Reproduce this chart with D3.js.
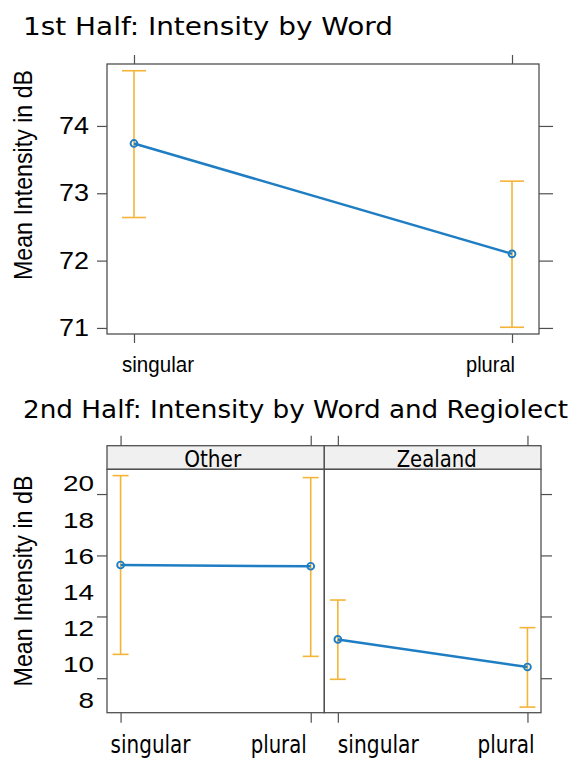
<!DOCTYPE html>
<html>
<head>
    <meta charset="utf-8">
    <title>Intensity by Word</title>
    <script src="https://d3js.org/d3.v7.min.js"></script>
    <style>
        body { margin: 0; background: #fff; }
        svg { display: block; }
    </style>
</head>
<body>
    <script>
        // data
        var words = ["singular", "plural"];

        // 1st half
        var half1Mean  = [73.74, 72.10];
        var half1Lower = [72.64, 71.01];
        var half1Upper = [74.82, 73.18];
        var half1Ticks = [71, 72, 73, 74];

        // 2nd half, by regiolect
        var regiolects = ["Other", "Zealand"];
        var otherMean    = [15.49, 15.42];
        var otherLower   = [10.54, 10.43];
        var otherUpper   = [20.44, 20.33];
        var zealandMean  = [11.37, 9.84];
        var zealandLower = [9.16, 7.62];
        var zealandUpper = [13.55, 12.02];
        var half2Labels  = [8, 10, 12, 14, 16, 18, 20];
        var half2Marks   = [9.22, 12.64, 16.02, 19.42];

        var width = 572, height = 758;
        var blue = "#1f7ec3", orange = "#f4b437", frameCol = "#505050";

        var svg = d3.select("body").append("svg")
            .attr("width", width)
            .attr("height", height);

        function rows(mean, lower, upper) {
            return words.map(function(w, i) {
                return { word: w, mean: mean[i], lower: lower[i], upper: upper[i] };
            });
        }

        function styleAxis(g) {
            g.select(".domain").remove();
            g.selectAll("line").attr("stroke", frameCol).attr("stroke-width", 1.2);
        }

        // draws line, error bars and points for one panel
        function drawSeries(g, data, x, y, cap) {
            var bars = g.selectAll(".ci").data(data).enter().append("g");
            bars.append("line")
                .attr("x1", function(d) { return x(d.word); })
                .attr("x2", function(d) { return x(d.word); })
                .attr("y1", function(d) { return y(d.lower); })
                .attr("y2", function(d) { return y(d.upper); });
            bars.append("line")
                .attr("x1", function(d) { return x(d.word) - cap; })
                .attr("x2", function(d) { return x(d.word) + cap; })
                .attr("y1", function(d) { return y(d.upper); })
                .attr("y2", function(d) { return y(d.upper); });
            bars.append("line")
                .attr("x1", function(d) { return x(d.word) - cap; })
                .attr("x2", function(d) { return x(d.word) + cap; })
                .attr("y1", function(d) { return y(d.lower); })
                .attr("y2", function(d) { return y(d.lower); });
            bars.selectAll("line").attr("stroke", orange).attr("stroke-width", 1.6);

            var line = d3.line()
                .x(function(d) { return x(d.word); })
                .y(function(d) { return y(d.mean); });
            g.append("path").datum(data)
                .attr("d", line)
                .attr("fill", "none")
                .attr("stroke", blue)
                .attr("stroke-width", 2.5);

            g.selectAll(".pt").data(data).enter().append("circle")
                .attr("cx", function(d) { return x(d.word); })
                .attr("cy", function(d) { return y(d.mean); })
                .attr("r", 3.4)
                .attr("fill", "none")
                .attr("stroke", blue)
                .attr("stroke-width", 1.9);
        }

        function frame(x0, y0, x1, y1) {
            svg.append("rect")
                .attr("x", x0).attr("y", y0)
                .attr("width", x1 - x0).attr("height", y1 - y0)
                .attr("fill", "none")
                .attr("stroke", frameCol)
                .attr("stroke-width", 1.3);
        }

        function yTitle(cy, len) {
            svg.append("text")
                .attr("transform", "translate(31.5," + cy + ") rotate(-90)")
                .attr("text-anchor", "middle")
                .attr("font-family", "Liberation Sans, Arial, sans-serif")
                .attr("font-size", 26)
                .attr("textLength", len)
                .attr("lengthAdjust", "spacingAndGlyphs")
                .text("Mean Intensity in dB");
        }

        function title(txt, yBase, len) {
            svg.append("text")
                .attr("x", 23).attr("y", yBase)
                .attr("font-family", "DejaVu Sans, Verdana, sans-serif")
                .attr("font-size", 24.5)
                .attr("textLength", len)
                .attr("lengthAdjust", "spacingAndGlyphs")
                .text(txt);
        }

        // ---------- 1st half ----------
        var p1 = { left: 107, right: 539, top: 64, bottom: 334 };
        var x1 = d3.scalePoint().domain(words).range([p1.left, p1.right]).padding(0.0714);
        var y1 = d3.scaleLinear().domain([70.91, 74.92]).range([p1.bottom, p1.top]);

        title("1st Half: Intensity by Word", 35, 370);

        svg.append("g").attr("transform", "translate(" + p1.left + ",0)")
            .call(d3.axisLeft(y1).tickValues(half1Ticks).tickSize(10).tickPadding(8).tickFormat(d3.format("d")))
            .call(styleAxis)
            .selectAll("text")
            .attr("fill", "#000")
            .attr("font-family", "Liberation Sans, Arial, sans-serif")
            .attr("font-size", 24)
            .attr("textLength", 30)
            .attr("lengthAdjust", "spacingAndGlyphs");
        svg.append("g").attr("transform", "translate(" + p1.right + ",0)")
            .call(d3.axisRight(y1).tickValues(half1Ticks).tickSize(14).tickFormat(""))
            .call(styleAxis);
        svg.append("g").attr("transform", "translate(0," + p1.top + ")")
            .call(d3.axisTop(x1).tickSize(9).tickFormat(""))
            .call(styleAxis);
        svg.append("g").attr("transform", "translate(0," + p1.bottom + ")")
            .call(d3.axisBottom(x1).tickSize(9).tickFormat(""))
            .call(styleAxis);

        frame(p1.left, p1.top, p1.right, p1.bottom);
        drawSeries(svg.append("g"), rows(half1Mean, half1Lower, half1Upper), x1, y1, 12);

        var lab1 = [{ w: "singular", dx: -12, anchor: "start", len: 72 },
                    { w: "plural", dx: 3, anchor: "end", len: 49 }];
        svg.selectAll(".xl1").data(lab1).enter().append("text")
            .attr("x", function(d) { return x1(d.w) + d.dx; })
            .attr("y", 371.5)
            .attr("text-anchor", function(d) { return d.anchor; })
            .attr("font-family", "Liberation Sans, Arial, sans-serif")
            .attr("font-size", 22)
            .attr("textLength", function(d) { return d.len; })
            .attr("lengthAdjust", "spacingAndGlyphs")
            .text(function(d) { return d.w; });

        yTitle(175, 210);

        // ---------- 2nd half ----------
        title("2nd Half: Intensity by Word and Regiolect", 418, 545);

        var p2 = { left: 107, mid: 324.3, right: 541, stripTop: 445.7, top: 469.3, bottom: 712.7 };
        var y2 = d3.scaleLinear().domain([7.31, 20.79]).range([p2.bottom, p2.top]);
        var panels = [
            { name: "Other", x0: p2.left, x1: p2.mid, data: rows(otherMean, otherLower, otherUpper),
              lab: [{ w: "singular", dx: -10, anchor: "start", len: 80 }, { w: "plural", dx: -4, anchor: "end", len: 56 }] },
            { name: "Zealand", x0: p2.mid, x1: p2.right, data: rows(zealandMean, zealandLower, zealandUpper),
              lab: [{ w: "singular", dx: 0, anchor: "start", len: 81 }, { w: "plural", dx: 7, anchor: "end", len: 57 }] }
        ];

        panels.forEach(function(p, i) {
            var x = d3.scalePoint().domain(words).range([p.x0, p.x1]).padding(0.0714);

            // strip
            svg.append("rect")
                .attr("x", p.x0).attr("y", p2.stripTop)
                .attr("width", p.x1 - p.x0).attr("height", p2.top - p2.stripTop)
                .attr("fill", "#f0f0f0")
                .attr("stroke", frameCol)
                .attr("stroke-width", 1.3);
            svg.append("text")
                .attr("x", (p.x0 + p.x1) / 2 + (i === 0 ? -3 : 4))
                .attr("y", 467)
                .attr("text-anchor", "middle")
                .attr("font-family", "DejaVu Sans, Verdana, sans-serif")
                .attr("font-size", 23)
                .attr("textLength", i === 0 ? 57 : 80)
                .attr("lengthAdjust", "spacingAndGlyphs")
                .text(p.name);

            svg.append("g").attr("transform", "translate(0," + p2.stripTop + ")")
                .call(d3.axisTop(x).tickSize(10).tickFormat(""))
                .call(styleAxis);
            svg.append("g").attr("transform", "translate(0," + p2.bottom + ")")
                .call(d3.axisBottom(x).tickSize(10).tickFormat(""))
                .call(styleAxis);

            frame(p.x0, p2.top, p.x1, p2.bottom);
            drawSeries(svg.append("g"), p.data, x, y2, 8);

            svg.selectAll(".xl2-" + i).data(p.lab).enter().append("text")
                .attr("x", function(d) { return x(d.w) + d.dx; })
                .attr("y", 753)
                .attr("text-anchor", function(d) { return d.anchor; })
                .attr("font-family", "DejaVu Sans, Verdana, sans-serif")
                .attr("font-size", 24.5)
                .attr("textLength", function(d) { return d.len; })
                .attr("lengthAdjust", "spacingAndGlyphs")
                .text(function(d) { return d.w; });
        });

        svg.append("g").attr("transform", "translate(" + p2.left + ",0)")
            .call(d3.axisLeft(y2).tickValues(half2Marks).tickSize(10).tickFormat(""))
            .call(styleAxis);
        svg.append("g").attr("transform", "translate(" + p2.right + ",0)")
            .call(d3.axisRight(y2).tickValues(half2Marks).tickSize(11).tickFormat(""))
            .call(styleAxis);

        svg.selectAll(".yl2").data(half2Labels).enter().append("text")
            .attr("x", 94)
            .attr("y", function(d) { return y2(d); })
            .attr("dy", "0.36em")
            .attr("text-anchor", "end")
            .attr("font-family", "Liberation Sans, Arial, sans-serif")
            .attr("font-size", 22)
            .attr("textLength", function(d) { return String(d).length * 15.5; })
            .attr("lengthAdjust", "spacingAndGlyphs")
            .text(function(d) { return d; });

        yTitle(581, 211);
    </script>
</body>
</html>
